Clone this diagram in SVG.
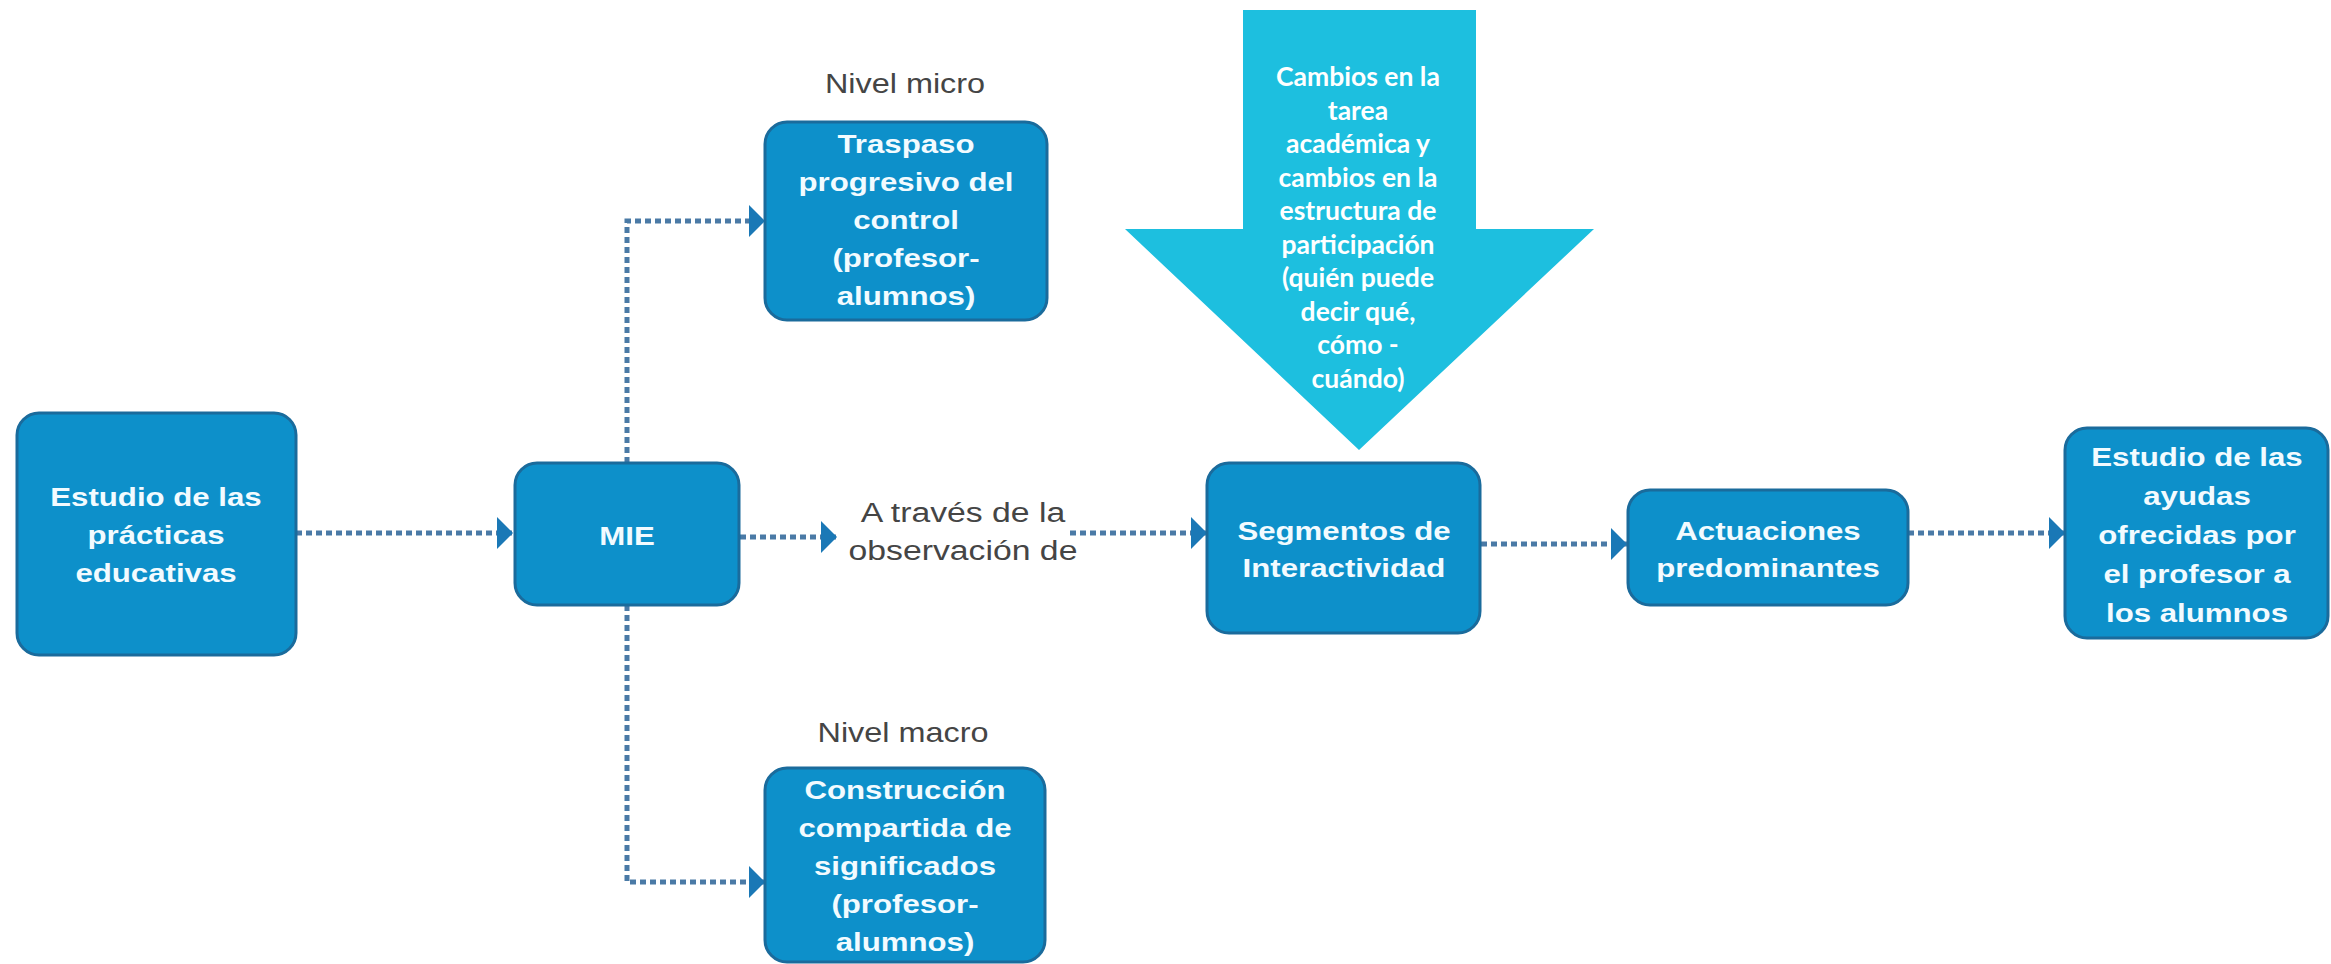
<svg xmlns="http://www.w3.org/2000/svg" width="2331" height="964" viewBox="0 0 2331 964">
<style>
.box{fill:#0d90ca;stroke:#1a6b9c;stroke-width:3}
.bt{font-family:"Liberation Sans",Arial,sans-serif;font-weight:bold;font-size:26px;fill:#f2fbff;text-anchor:middle}
.gt{font-family:"Liberation Sans",Arial,sans-serif;font-size:27px;fill:#454545;text-anchor:middle}
.at{font-family:Lato,"Open Sans",sans-serif;font-weight:bold;font-size:26.5px;fill:#ffffff;text-anchor:middle}
.con{fill:none;stroke:#4a7aa6;stroke-width:5;stroke-dasharray:6 4;marker-end:url(#ah)}
</style>
<defs>
<marker id="ah" markerUnits="userSpaceOnUse" markerWidth="18" markerHeight="32" refX="16" refY="16" orient="auto">
<path d="M0,0 L16,16 L0,32 Z" fill="#1a78b6"/>
</marker>
</defs>
<rect width="2331" height="964" fill="#ffffff"/>
<g id="connectors">
<path class="con" d="M296,533 H513"/>
<path class="con" d="M627,463 V221 H765"/>
<path class="con" d="M627,605 V882 H765"/>
<path class="con" d="M740,537 H837"/>
<path class="con" d="M1070,533 H1207"/>
<path class="con" d="M1481,544 H1627"/>
<path class="con" d="M1908,533 H2065"/>
</g>
<g id="arrow-cambios">
<polygon points="1243,10 1476,10 1476,229 1594,229 1359,450 1125,229 1243,229" fill="#1dbfdf"/>
<text class="at" x="1358" y="86">Cambios en la</text>
<text class="at" x="1358" y="119.5">tarea</text>
<text class="at" x="1358" y="153">académica y</text>
<text class="at" x="1358" y="186.5">cambios en la</text>
<text class="at" x="1358" y="220">estructura de</text>
<text class="at" x="1358" y="253.5">participación</text>
<text class="at" x="1358" y="287">(quién puede</text>
<text class="at" x="1358" y="320.5">decir qué,</text>
<text class="at" x="1358" y="354">cómo -</text>
<text class="at" x="1358" y="387.5">cuándo)</text>
</g>
<g id="estudio-practicas">
<rect class="box" x="17" y="413" width="279" height="242" rx="22"/>
<g transform="translate(156 0) scale(1.2 1)">
<text class="bt" x="0" y="506">Estudio de las</text>
<text class="bt" x="0" y="544">prácticas</text>
<text class="bt" x="0" y="582">educativas</text>
</g>
</g>
<g id="mie">
<rect class="box" x="515" y="463" width="224" height="142" rx="22"/>
<g transform="translate(627 0) scale(1.2 1)">
<text class="bt" x="0" y="545">MIE</text>
</g>
</g>
<g id="nivel-micro">
<g transform="translate(905 0) scale(1.2 1)">
<text class="gt" x="0" y="93">Nivel micro</text>
</g>
</g>
<g id="traspaso">
<rect class="box" x="765" y="122" width="282" height="198" rx="22"/>
<g transform="translate(906 0) scale(1.2 1)">
<text class="bt" x="0" y="153">Traspaso</text>
<text class="bt" x="0" y="191">progresivo del</text>
<text class="bt" x="0" y="229">control</text>
<text class="bt" x="0" y="267">(profesor-</text>
<text class="bt" x="0" y="305">alumnos)</text>
</g>
</g>
<g id="nivel-macro">
<g transform="translate(903 0) scale(1.2 1)">
<text class="gt" x="0" y="742">Nivel macro</text>
</g>
</g>
<g id="construccion">
<rect class="box" x="765" y="768" width="280" height="194" rx="22"/>
<g transform="translate(905 0) scale(1.2 1)">
<text class="bt" x="0" y="799">Construcción</text>
<text class="bt" x="0" y="837">compartida de</text>
<text class="bt" x="0" y="875">significados</text>
<text class="bt" x="0" y="913">(profesor-</text>
<text class="bt" x="0" y="951">alumnos)</text>
</g>
</g>
<g id="a-traves">
<g transform="translate(963 0) scale(1.25 1)">
<text class="gt" x="0" y="522">A través de la</text>
<text class="gt" x="0" y="560">observación de</text>
</g>
</g>
<g id="segmentos">
<rect class="box" x="1207" y="463" width="273" height="170" rx="22"/>
<g transform="translate(1344 0) scale(1.2 1)">
<text class="bt" x="0" y="540">Segmentos de</text>
<text class="bt" x="0" y="577">Interactividad</text>
</g>
</g>
<g id="actuaciones">
<rect class="box" x="1628" y="490" width="280" height="115" rx="22"/>
<g transform="translate(1768 0) scale(1.2 1)">
<text class="bt" x="0" y="540">Actuaciones</text>
<text class="bt" x="0" y="577">predominantes</text>
</g>
</g>
<g id="estudio-ayudas">
<rect class="box" x="2065" y="428" width="263" height="210" rx="22"/>
<g transform="translate(2197 0) scale(1.2 1)">
<text class="bt" x="0" y="466">Estudio de las</text>
<text class="bt" x="0" y="505">ayudas</text>
<text class="bt" x="0" y="544">ofrecidas por</text>
<text class="bt" x="0" y="583">el profesor a</text>
<text class="bt" x="0" y="622">los alumnos</text>
</g>
</g>
</svg>
